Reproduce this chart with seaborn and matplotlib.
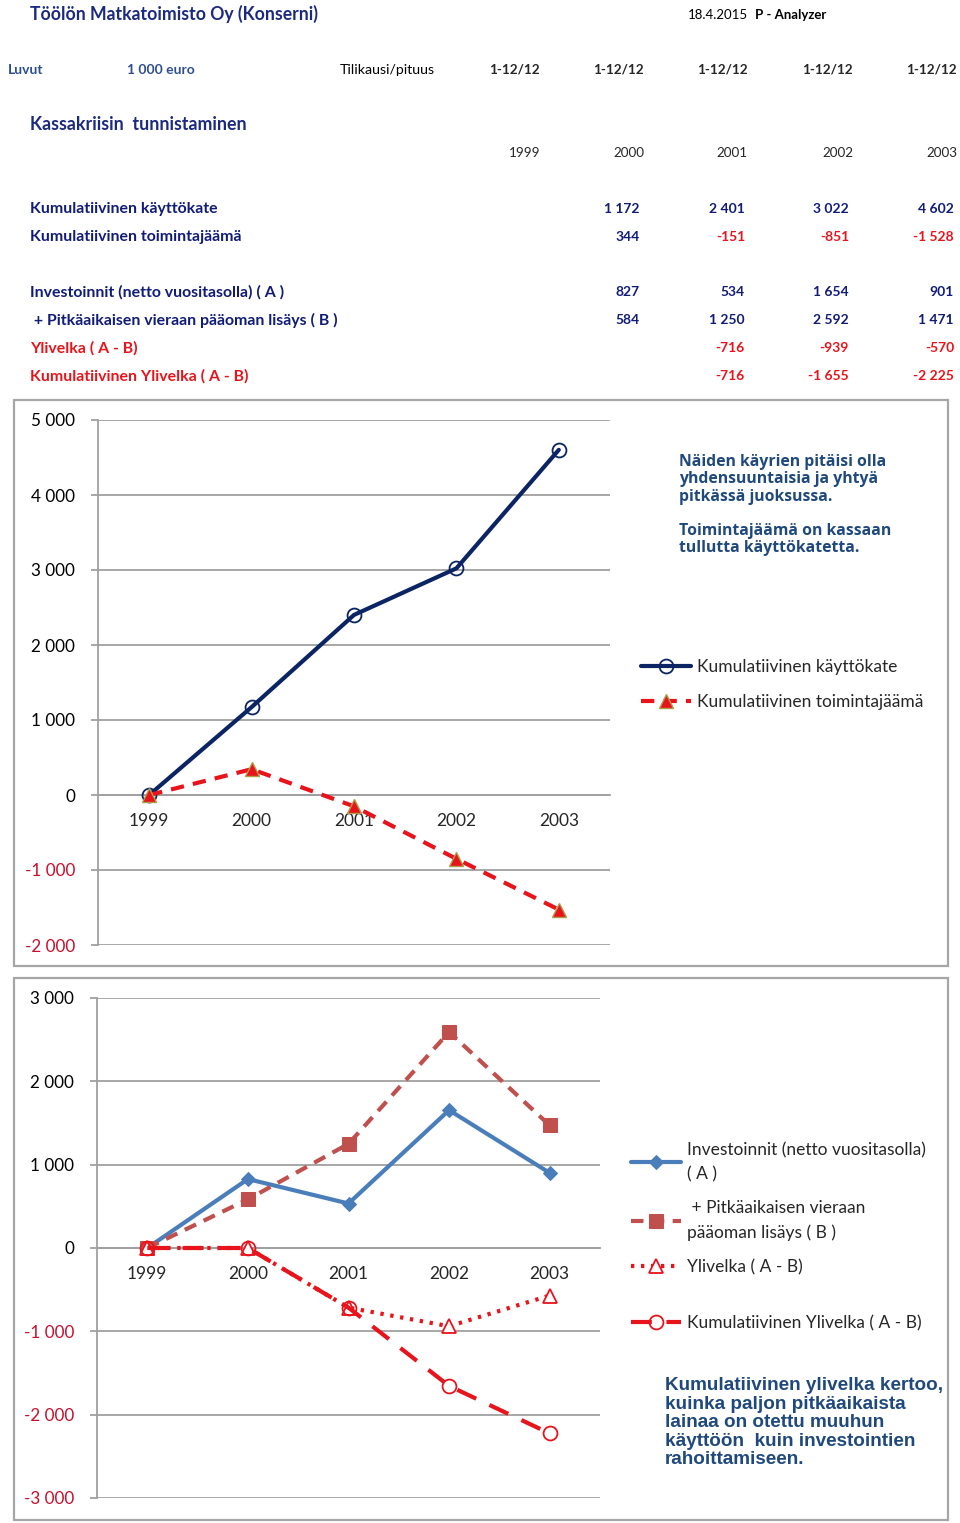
import matplotlib
matplotlib.use('Agg')
import matplotlib.pyplot as plt
from matplotlib.patches import Rectangle
from matplotlib.ticker import FixedLocator
import seaborn as sns

years = ['1999', '2000', '2001', '2002', '2003']
kayttokate = [0, 1172, 2401, 3022, 4602]
toimintajaama = [0, 344, -151, -851, -1528]
investoinnit = [0, 827, 534, 1654, 901]
pitka_laina = [0, 584, 1250, 2592, 1471]
ylivelka = [0, 0, -716, -939, -570]
kum_ylivelka = [0, 0, -716, -1655, -2225]

W, H = 960, 1523
NAVY = '#101c78'
TXT_BLUE = '#1f497d'
RED = '#e8141b'

sns.set_style('white')
plt.rcParams['font.family'] = ['Lato', 'DejaVu Sans']

fig = plt.figure(figsize=(W / 100, H / 100), dpi=100)


def px(x, y):
    return x / W, 1 - y / H


def ftext(x, y, s, **kw):
    kw.setdefault('va', 'center')
    fig.text(*px(x, y), s, **kw)


def fmt(v):
    s = f"{abs(int(v)):,}".replace(",", " ")
    return ("-" if v < 0 else "") + s


# header
ftext(30, 14, 'Töölön Matkatoimisto Oy (Konserni)', fontsize=12.7, fontweight='bold', color='#1b2a80')
ftext(688, 15, '18.4.2015', fontsize=9.5, color='black')
ftext(755, 15, 'P - Analyzer', fontsize=9.5, fontweight='bold', color='black')
ftext(8, 70, 'Luvut', fontsize=10, fontweight='bold', color='#2e4f8f')
ftext(127, 70, '1 000 euro', fontsize=10, fontweight='bold', color='#2e4f8f')
ftext(340, 70, 'Tilikausi/pituus', fontsize=10.2, color='black')
col_right = [540, 644, 748, 853, 957]
for xr, yr in zip(col_right, years):
    ftext(xr, 70, '1-12/12', fontsize=9.7, fontweight='bold', ha='right')
    ftext(xr, 153, yr, fontsize=9.7, ha='right')
ftext(30, 125, 'Kassakriisin  tunnistaminen', fontsize=12.8, fontweight='bold', color='#1b2a80')

rows = [
    (209, 'Kumulatiivinen käyttökate', kayttokate, NAVY),
    (237, 'Kumulatiivinen toimintajäämä', toimintajaama, NAVY),
    (292, 'Investoinnit (netto vuositasolla) ( A )', investoinnit, NAVY),
    (320, ' + Pitkäaikaisen vieraan pääoman lisäys ( B )', pitka_laina, NAVY),
    (348, 'Ylivelka ( A - B)', ylivelka, RED),
    (376, 'Kumulatiivinen Ylivelka ( A - B)', kum_ylivelka, RED),
]
val_right = [536, 640, 745, 849, 954]
for y, label, vals, col in rows:
    ftext(30, y, label, fontsize=11.4, fontweight='bold', color=col)
    for xr, v in zip(val_right, vals):
        if v == 0:
            continue
        ftext(xr, y, fmt(v), fontsize=10, fontweight='bold', ha='right',
              color=RED if v < 0 else NAVY)

# frames
for (x0, y0, x1, y1) in [(14, 400, 948, 966), (14, 978, 948, 1520)]:
    fig.add_artist(Rectangle(px(x0, y1), (x1 - x0) / W, (y1 - y0) / H,
                             transform=fig.transFigure, fill=False,
                             edgecolor='#a6a6a6', lw=1.6))


def style_axis(ax, ymin, ymax):
    pos = list(range(len(years)))
    ax.set_xlim(-0.5, len(years) - 0.5)
    ax.set_ylim(ymin, ymax)
    ticks = list(range(ymin, ymax + 1, 1000))
    ax.set_yticks(ticks)
    ax.set_yticklabels([fmt(t) for t in ticks])
    for lab, t in zip(ax.get_yticklabels(), ticks):
        lab.set_color('#c8102e' if t < 0 else 'black')
    ax.set_xticks(pos)
    ax.set_xticklabels(years)
    ax.xaxis.set_minor_locator(FixedLocator([p - 0.5 for p in range(len(years) + 1)]))
    for s in ['top', 'right']:
        ax.spines[s].set_visible(False)
    ax.spines['bottom'].set_position(('data', 0))
    for s in ['bottom', 'left']:
        ax.spines[s].set_color('#a0a0a0')
        ax.spines[s].set_linewidth(1.3)
    ax.tick_params(axis='x', which='major', length=0, pad=13, labelsize=12.5)
    ax.tick_params(axis='x', which='minor', length=5, width=1.3, color='#a0a0a0', direction='out')
    ax.tick_params(axis='y', length=5, width=1.3, color='#a0a0a0', left=True,
                   labelsize=12.3, pad=11.5)
    ax.yaxis.grid(True, color='#a0a0a0', lw=1.3)
    ax.xaxis.grid(False)
    ax.set_xlabel('')
    ax.set_ylabel('')


pos = list(range(len(years)))

# chart 1
ax1 = fig.add_axes([98 / W, 1 - 945 / H, 512 / W, 525 / H])
sns.lineplot(x=pos, y=kayttokate, ax=ax1, color='#0b2463', lw=3,
             marker='o', markersize=10, markerfacecolor='none',
             markeredgecolor='#0b2463', markeredgewidth=1.3,
             label='Kumulatiivinen käyttökate', zorder=4, clip_on=False)
sns.lineplot(x=pos, y=toimintajaama, ax=ax1, color=RED, lw=3, linestyle=(0, (3.2, 2.2)),
             marker='^', markersize=10, markerfacecolor=RED,
             markeredgecolor='#b09a48', markeredgewidth=1,
             label='Kumulatiivinen toimintajäämä', zorder=4, clip_on=False)
style_axis(ax1, -2000, 5000)
h, l = ax1.get_legend_handles_labels()
ax1.legend(h, l, loc='upper left', bbox_to_anchor=px(641, 659),
           bbox_transform=fig.transFigure, frameon=False, fontsize=12.5,
           handlelength=2.9, handletextpad=0.3, labelspacing=1.1,
           borderaxespad=0, borderpad=0)

note1 = 'Näiden käyrien pitäisi olla\nyhdensuuntaisia ja yhtyä\npitkässä juoksussa.'
note2 = 'Toimintajäämä on kassaan\ntullutta käyttökatetta.'
fig.text(*px(679, 454), note1, fontsize=11.3, fontweight='bold', color=TXT_BLUE,
         va='top', linespacing=1.12, family=['Open Sans', 'DejaVu Sans'])
fig.text(*px(679, 523), note2, fontsize=11.3, fontweight='bold', color=TXT_BLUE,
         va='top', linespacing=1.12, family=['Open Sans', 'DejaVu Sans'])

# chart 2
ax2 = fig.add_axes([97 / W, 1 - 1498 / H, 503 / W, 500 / H])
sns.lineplot(x=pos, y=investoinnit, ax=ax2, color='#4a7ebb', lw=3,
             marker='D', markersize=7.5, markerfacecolor='#4a7ebb',
             markeredgecolor='#4a7ebb',
             label='Investoinnit (netto vuositasolla)\n( A )', zorder=4, clip_on=False)
sns.lineplot(x=pos, y=pitka_laina, ax=ax2, color='#c0504d', lw=3, linestyle=(0, (3, 2)),
             marker='s', markersize=9.5, markerfacecolor='#c0504d',
             markeredgecolor='#c0504d',
             label=' + Pitkäaikaisen vieraan\npääoman lisäys ( B )', zorder=4, clip_on=False)
sns.lineplot(x=pos, y=ylivelka, ax=ax2, color=RED, lw=3, linestyle=(0, (0.8, 1.6)),
             marker='^', markersize=10, markerfacecolor='white',
             markeredgecolor=RED, markeredgewidth=1.3,
             label='Ylivelka ( A - B)', zorder=4, clip_on=False)
sns.lineplot(x=pos, y=kum_ylivelka, ax=ax2, color=RED, lw=3, linestyle=(0, (5, 3.5)),
             marker='o', markersize=10, markerfacecolor='none',
             markeredgecolor=RED, markeredgewidth=1.3,
             label='Kumulatiivinen Ylivelka ( A - B)', zorder=4, clip_on=False)
style_axis(ax2, -3000, 3000)
h, l = ax2.get_legend_handles_labels()
leg_a = ax2.legend(h[:3], l[:3], loc='upper left', bbox_to_anchor=px(631, 1142),
                   bbox_transform=fig.transFigure, frameon=False, fontsize=12.5,
                   handlelength=2.9, handletextpad=0.3, labelspacing=1.05,
                   borderaxespad=0, borderpad=0)
for t in leg_a.get_texts():
    t.set_linespacing(1.6)
ax2.add_artist(leg_a)
ax2.legend(h[3:], l[3:], loc='upper left', bbox_to_anchor=px(631, 1315),
           bbox_transform=fig.transFigure, frameon=False, fontsize=12.5,
           handlelength=2.9, handletextpad=0.3,
           borderaxespad=0, borderpad=0)

note3 = ('Kumulatiivinen ylivelka kertoo,\nkuinka paljon pitkäaikaista\n'
         'lainaa on otettu muuhun\nkäyttöön  kuin investointien\nrahoittamiseen.')
fig.text(*px(665, 1377), note3, fontsize=13.6, fontweight='bold', color=TXT_BLUE,
         va='top', linespacing=1.12, family=['Liberation Sans', 'DejaVu Sans'])

plt.savefig('out.png', dpi=100)
